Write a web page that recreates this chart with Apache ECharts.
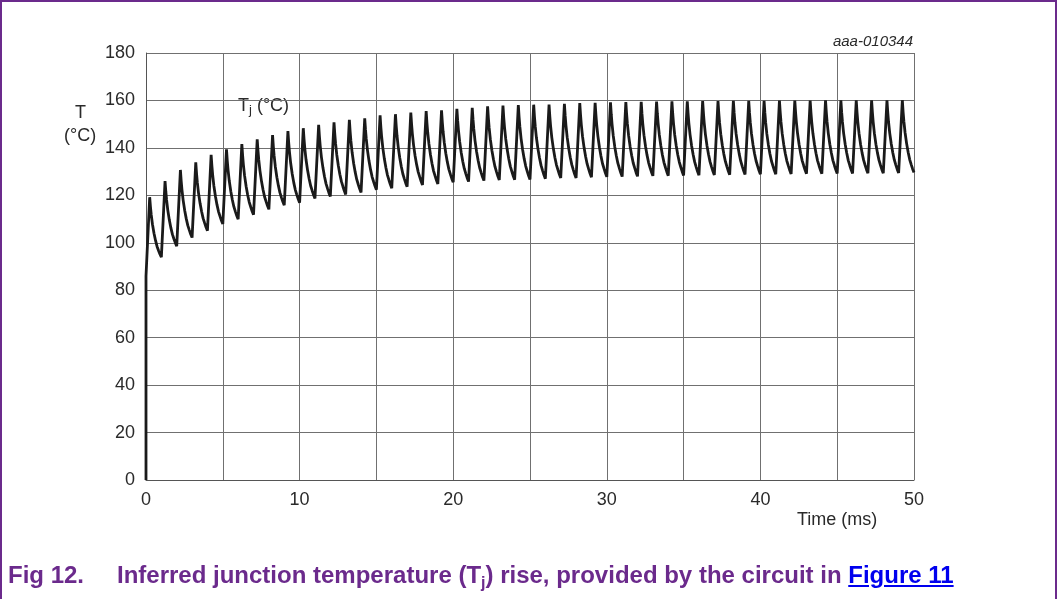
<!DOCTYPE html>
<html>
<head>
<meta charset="utf-8">
<script src="https://cdn.jsdelivr.net/npm/echarts@6/dist/echarts.min.js"></script>
<style>
  html, body { margin:0; padding:0; background:#fff; }
  #wrap { position:relative; width:1057px; height:599px; overflow:hidden; }
  #frame { position:absolute; left:0; top:0; width:1053px; height:610px; border:2px solid #6b2a8c; border-bottom:none; box-sizing:content-box; pointer-events:none; }
  #chart { position:absolute; left:0; top:0; width:1057px; height:599px; }
  #caption { position:absolute; left:8px; top:561px; font-family:"Liberation Sans", Arial, sans-serif; font-weight:bold; font-size:24px; color:#6b2a8c; white-space:nowrap; }
  #caption .lbl { display:inline-block; width:109px; }
  #caption a { color:#0000ee; text-decoration:underline; }
  #caption sub { font-size:16px; vertical-align:-5px; }
</style>
</head>
<body>
<div id="wrap">
  <div id="chart"></div>
  <div id="frame"></div>
  <div id="caption"><span class="lbl">Fig 12.</span>Inferred junction temperature (T<sub>j</sub>) rise, provided by the circuit in <a>Figure 11</a></div>
</div>
<script>
// ---- data ----
// one heating pulse per millisecond, 50 pulses
const peakValues = [119.2,126.0,130.7,133.9,137.1,139.4,141.6,143.6,145.4,147.1,
  148.3,149.7,150.8,151.8,152.5,153.7,154.2,154.9,155.5,155.8,
  156.5,156.9,157.5,157.8,158.0,158.2,158.3,158.6,158.9,159.0,
  159.2,159.3,159.4,159.5,159.6,159.6,159.7,159.7,159.8,159.8,
  159.8,159.9,159.9,159.9,160.0,160.0,160.0,160.0,160.0,160.1];
const troughValues = [93.9,98.6,102.2,105.1,107.9,109.9,111.8,114.1,115.8,116.9,
  118.7,119.5,120.4,121.2,122.4,123.0,123.6,124.4,124.8,125.5,
  125.8,126.2,126.5,126.6,126.7,127.0,127.3,127.3,127.6,127.8,
  127.9,128.0,128.2,128.3,128.4,128.5,128.6,128.7,128.8,128.9,
  128.9,129.0,129.1,129.1,129.2,129.2,129.3,129.3,129.4,129.6];
const startValue = 86;          // value right after switch-on at t = 0
// shape of one cooling curve read from a tooth: time within the period (ms)
// and fraction of (peak - trough) still remaining
const decayTimes = [0.24,0.29,0.34,0.42,0.52,0.62,0.72,0.82,0.91,1.00];
const decayFractions = [1,0.84,0.71,0.55,0.40,0.28,0.18,0.11,0.05,0];
const xTicks = [0,10,20,30,40,50];
const yTicks = [0,20,40,60,80,100,120,140,160,180];

// ---- build the series ----
const tjData = [[0,0]];
for (let n = 0; n < peakValues.length; n++) {
  tjData.push([n, n === 0 ? startValue : troughValues[n-1]]);
  for (let k = 0; k < decayTimes.length; k++) {
    tjData.push([n + decayTimes[k], troughValues[n] + (peakValues[n]-troughValues[n]) * decayFractions[k]]);
  }
}

const font = '"Liberation Sans", Arial, sans-serif';
const txt = '#2a2a2a';
const chart = echarts.init(document.getElementById('chart'), null, {renderer:'canvas'});
chart.setOption({
  animation: false,
  backgroundColor: '#fff',
  grid: { left:146, top:53, right:143, bottom:119, containLabel:false, show:false },
  xAxis: {
    type:'value', min:0, max:50, interval:5,
    axisLine:{ show:true, lineStyle:{ color:'#555', width:1 } },
    axisTick:{ show:false },
    splitLine:{ show:true, lineStyle:{ color:'#707070', width:1 } },
    axisLabel:{ color:txt, fontFamily:font, fontSize:18, margin:11,
      formatter: v => xTicks.indexOf(v) >= 0 ? String(v) : '' }
  },
  yAxis: {
    type:'value', min:0, max:180, interval:20,
    axisLine:{ show:true, lineStyle:{ color:'#555', width:1 } },
    axisTick:{ show:false },
    splitLine:{ show:true, lineStyle:{ color:'#707070', width:1 } },
    axisLabel:{ color:txt, fontFamily:font, fontSize:18, margin:11,
      formatter: v => yTicks.indexOf(v) >= 0 ? String(v) : '' }
  },
  series: [{
    type:'line', data: tjData, showSymbol:false, smooth:false,
    lineStyle:{ color:'#1a1a1a', width:2.8 }, z:5
  }],
  graphic: [
    { type:'text', left:75, top:104, style:{ text:'T', fill:txt, font:'18px '+font } },
    { type:'text', left:64, top:127, style:{ text:'(°C)', fill:txt, font:'18px '+font } },
    { type:'text', left:238, top:97, style:{ text:'{a|T}{s|j}{a| (°C)}', fill:txt,
        rich:{ a:{ fontSize:18, fontFamily:font, color:txt }, s:{ fontSize:13, fontFamily:font, color:txt, padding:[9,0,0,0] } } } },
    { type:'text', right:144, top:34, style:{ text:'aaa-010344', fill:txt, font:'italic 15px '+font, textAlign:'right' } },
    { type:'text', left:797, top:511, style:{ text:'Time (ms)', fill:txt, font:'18px '+font } }
  ]
});
</script>
</body>
</html>
